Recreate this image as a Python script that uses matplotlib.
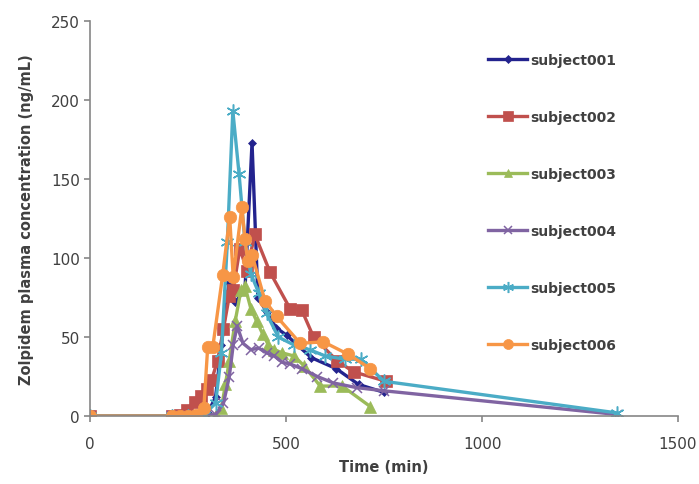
import matplotlib
matplotlib.use('Agg')
import matplotlib.pyplot as plt

# concentration-time data (min, ng/mL)
t001 = [0, 210, 240, 270, 300, 320, 335, 354, 370, 395, 413, 428, 450, 474, 502, 564, 628, 685, 750]
c001 = [0, 0, 0, 0, 2, 12, 45, 84, 72, 80, 173, 75, 66, 56, 51, 37, 30, 20, 15]

t002 = [0, 210, 230, 246, 267, 284, 297, 310, 325, 340, 355, 365, 382, 400, 420, 459, 510, 540, 570, 630, 672, 755]
c002 = [0, 0, 1, 4, 9, 13, 17, 23, 35, 55, 76, 80, 106, 92, 115, 91, 68, 67, 50, 35, 28, 22]

t003 = [0, 210, 250, 290, 320, 335, 345, 355, 370, 385, 395, 410, 425, 440, 455, 470, 490, 520, 545, 587, 643, 715]
c003 = [0, 0, 0, 0, 1, 5, 20, 35, 60, 80, 82, 68, 60, 52, 45, 42, 40, 38, 32, 19, 19, 6]

t004 = [0, 210, 250, 290, 320, 340, 355, 365, 375, 390, 410, 430, 450, 470, 490, 510, 540, 580, 620, 680, 750, 1345]
c004 = [0, 0, 0, 0, 1, 8, 25, 45, 57, 46, 42, 43, 40, 38, 34, 33, 30, 25, 21, 18, 16, 1]

t005 = [0, 210, 250, 290, 320, 335, 350, 364, 380, 395, 410, 430, 450, 480, 520, 560, 600, 650, 690, 750, 1345]
c005 = [0, 0, 0, 1, 8, 40, 110, 193, 153, 110, 90, 78, 65, 50, 45, 42, 38, 36, 36, 22, 2]

t006 = [0, 210, 230, 250, 270, 290, 300, 313, 338, 356, 365, 387, 395, 402, 413, 446, 476, 536, 595, 659, 715]
c006 = [0, 0, 0, 0, 1, 5, 44, 44, 89, 126, 88, 132, 112, 98, 102, 73, 63, 46, 47, 39, 30]

labels = ['subject001', 'subject002', 'subject003', 'subject004', 'subject005', 'subject006']
times = [t001, t002, t003, t004, t005, t006]
concs = [c001, c002, c003, c004, c005, c006]

colors = ['#23238E', '#C0504D', '#9BBB59', '#8064A2', '#4BACC6', '#F79646']
markers = ['D', 's', '^', 'x', (6, 2, 0), 'o']
msizes = [4.5, 8.5, 8, 7, 10, 9]

grey = '#404040'
plt.rcParams['font.family'] = ['DejaVu Sans']

fig = plt.figure(figsize=(6.99, 4.85), dpi=100)
ax = fig.add_axes([0.129, 0.140, 0.841, 0.815])

for t, c, lab, col, m, ms in zip(times, concs, labels, colors, markers, msizes):
    thin = m == 'x' or isinstance(m, tuple)
    ax.plot(t, c, color=col, lw=2.4, marker=m, markersize=ms, label=lab,
            markeredgecolor=col, markeredgewidth=1.1 if thin else 0.5)

ax.set_xlim(0, 1500)
ax.set_ylim(0, 250)
ax.set_xticks([0, 500, 1000, 1500])
ax.set_yticks([0, 50, 100, 150, 200, 250])

for s in ['top', 'right']:
    ax.spines[s].set_visible(False)
for s in ['left', 'bottom']:
    ax.spines[s].set_color('#868686')
    ax.spines[s].set_linewidth(1.2)
ax.tick_params(colors='#868686', labelcolor=grey, labelsize=11, length=4, width=1.2)
ax.tick_params(axis='x', pad=10)

ax.set_xlabel('Time (min)', fontsize=10.5, color=grey, fontweight='bold', labelpad=6)
ax.set_ylabel('Zolpidem plasma concentration (ng/mL)', fontsize=10.5, color=grey,
              fontweight='bold', labelpad=12)

leg = ax.legend(loc='upper left', bbox_to_anchor=(0.677, 0.919), frameon=False,
                fontsize=10, labelspacing=3.1, handlelength=2.8, handletextpad=0.25,
                borderpad=0, borderaxespad=0, markerscale=0.8)
for txt in leg.get_texts():
    txt.set_color(grey)
    txt.set_fontweight('bold')

fig.savefig('out.png', dpi=100)
